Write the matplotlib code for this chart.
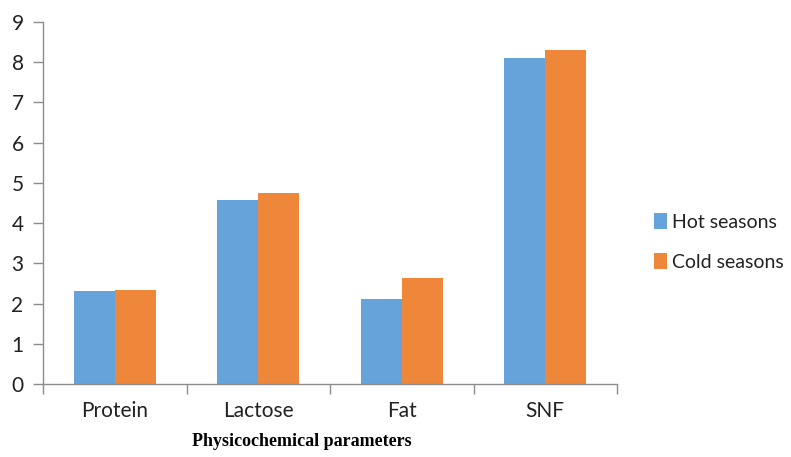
import matplotlib
matplotlib.use("Agg")
import matplotlib.pyplot as plt
import numpy as np

categories = ["Protein", "Lactose", "Fat", "SNF"]
hot = [2.31, 4.58, 2.11, 8.11]
cold = [2.34, 4.75, 2.64, 8.30]
series_names = ["Hot seasons", "Cold seasons"]
yticks = list(range(0, 10))

c_hot = "#66A3DA"
c_cold = "#EF873B"
axis_c = "#8C8C8C"
font = "Lato"

fig = plt.figure(figsize=(7.91, 4.57), dpi=100)
ax = fig.add_axes([43/791, 1-384/457, (617-43)/791, (384-22)/457])

x = np.arange(len(categories))
w = 0.285
ax.bar(x - w/2, hot, width=w, color=c_hot, label=series_names[0])
ax.bar(x + w/2, cold, width=w, color=c_cold, label=series_names[1])

ax.set_xlim(-0.5, len(categories) - 0.5)
ax.set_ylim(0, 9)
ax.set_yticks(yticks)
ax.set_yticklabels([str(t) for t in yticks], fontsize=15, family=font, color="#222222")
ax.set_xticks(x)
ax.set_xticklabels(categories, fontsize=15, family=font, color="#222222")
ax.tick_params(axis="x", length=0, pad=12)
ax.tick_params(axis="y", length=7, color=axis_c, width=1, pad=7)
ax.set_xticks(np.arange(-0.5, len(categories), 1.0), minor=True)
ax.tick_params(axis="x", which="minor", length=7, color=axis_c, width=1, direction="out")

for s in ["top", "right"]:
    ax.spines[s].set_visible(False)
for s in ["left", "bottom"]:
    ax.spines[s].set_color(axis_c)
    ax.spines[s].set_linewidth(1)

fig.text(302/791, 1-441/457, "Physicochemical parameters", ha="center", va="center",
         fontsize=13, fontweight="bold", family="Liberation Serif")

leg = ax.legend(loc="center left", bbox_to_anchor=(654/791, 1-242/457), bbox_transform=fig.transFigure,
                frameon=False, borderpad=0, borderaxespad=0,
                prop={"family": font, "size": 14}, handlelength=0.65,
                handleheight=0.9, handletextpad=0.3, labelspacing=1.15)
for t in leg.get_texts():
    t.set_color("#222222")

fig.savefig("out.png", dpi=100)
